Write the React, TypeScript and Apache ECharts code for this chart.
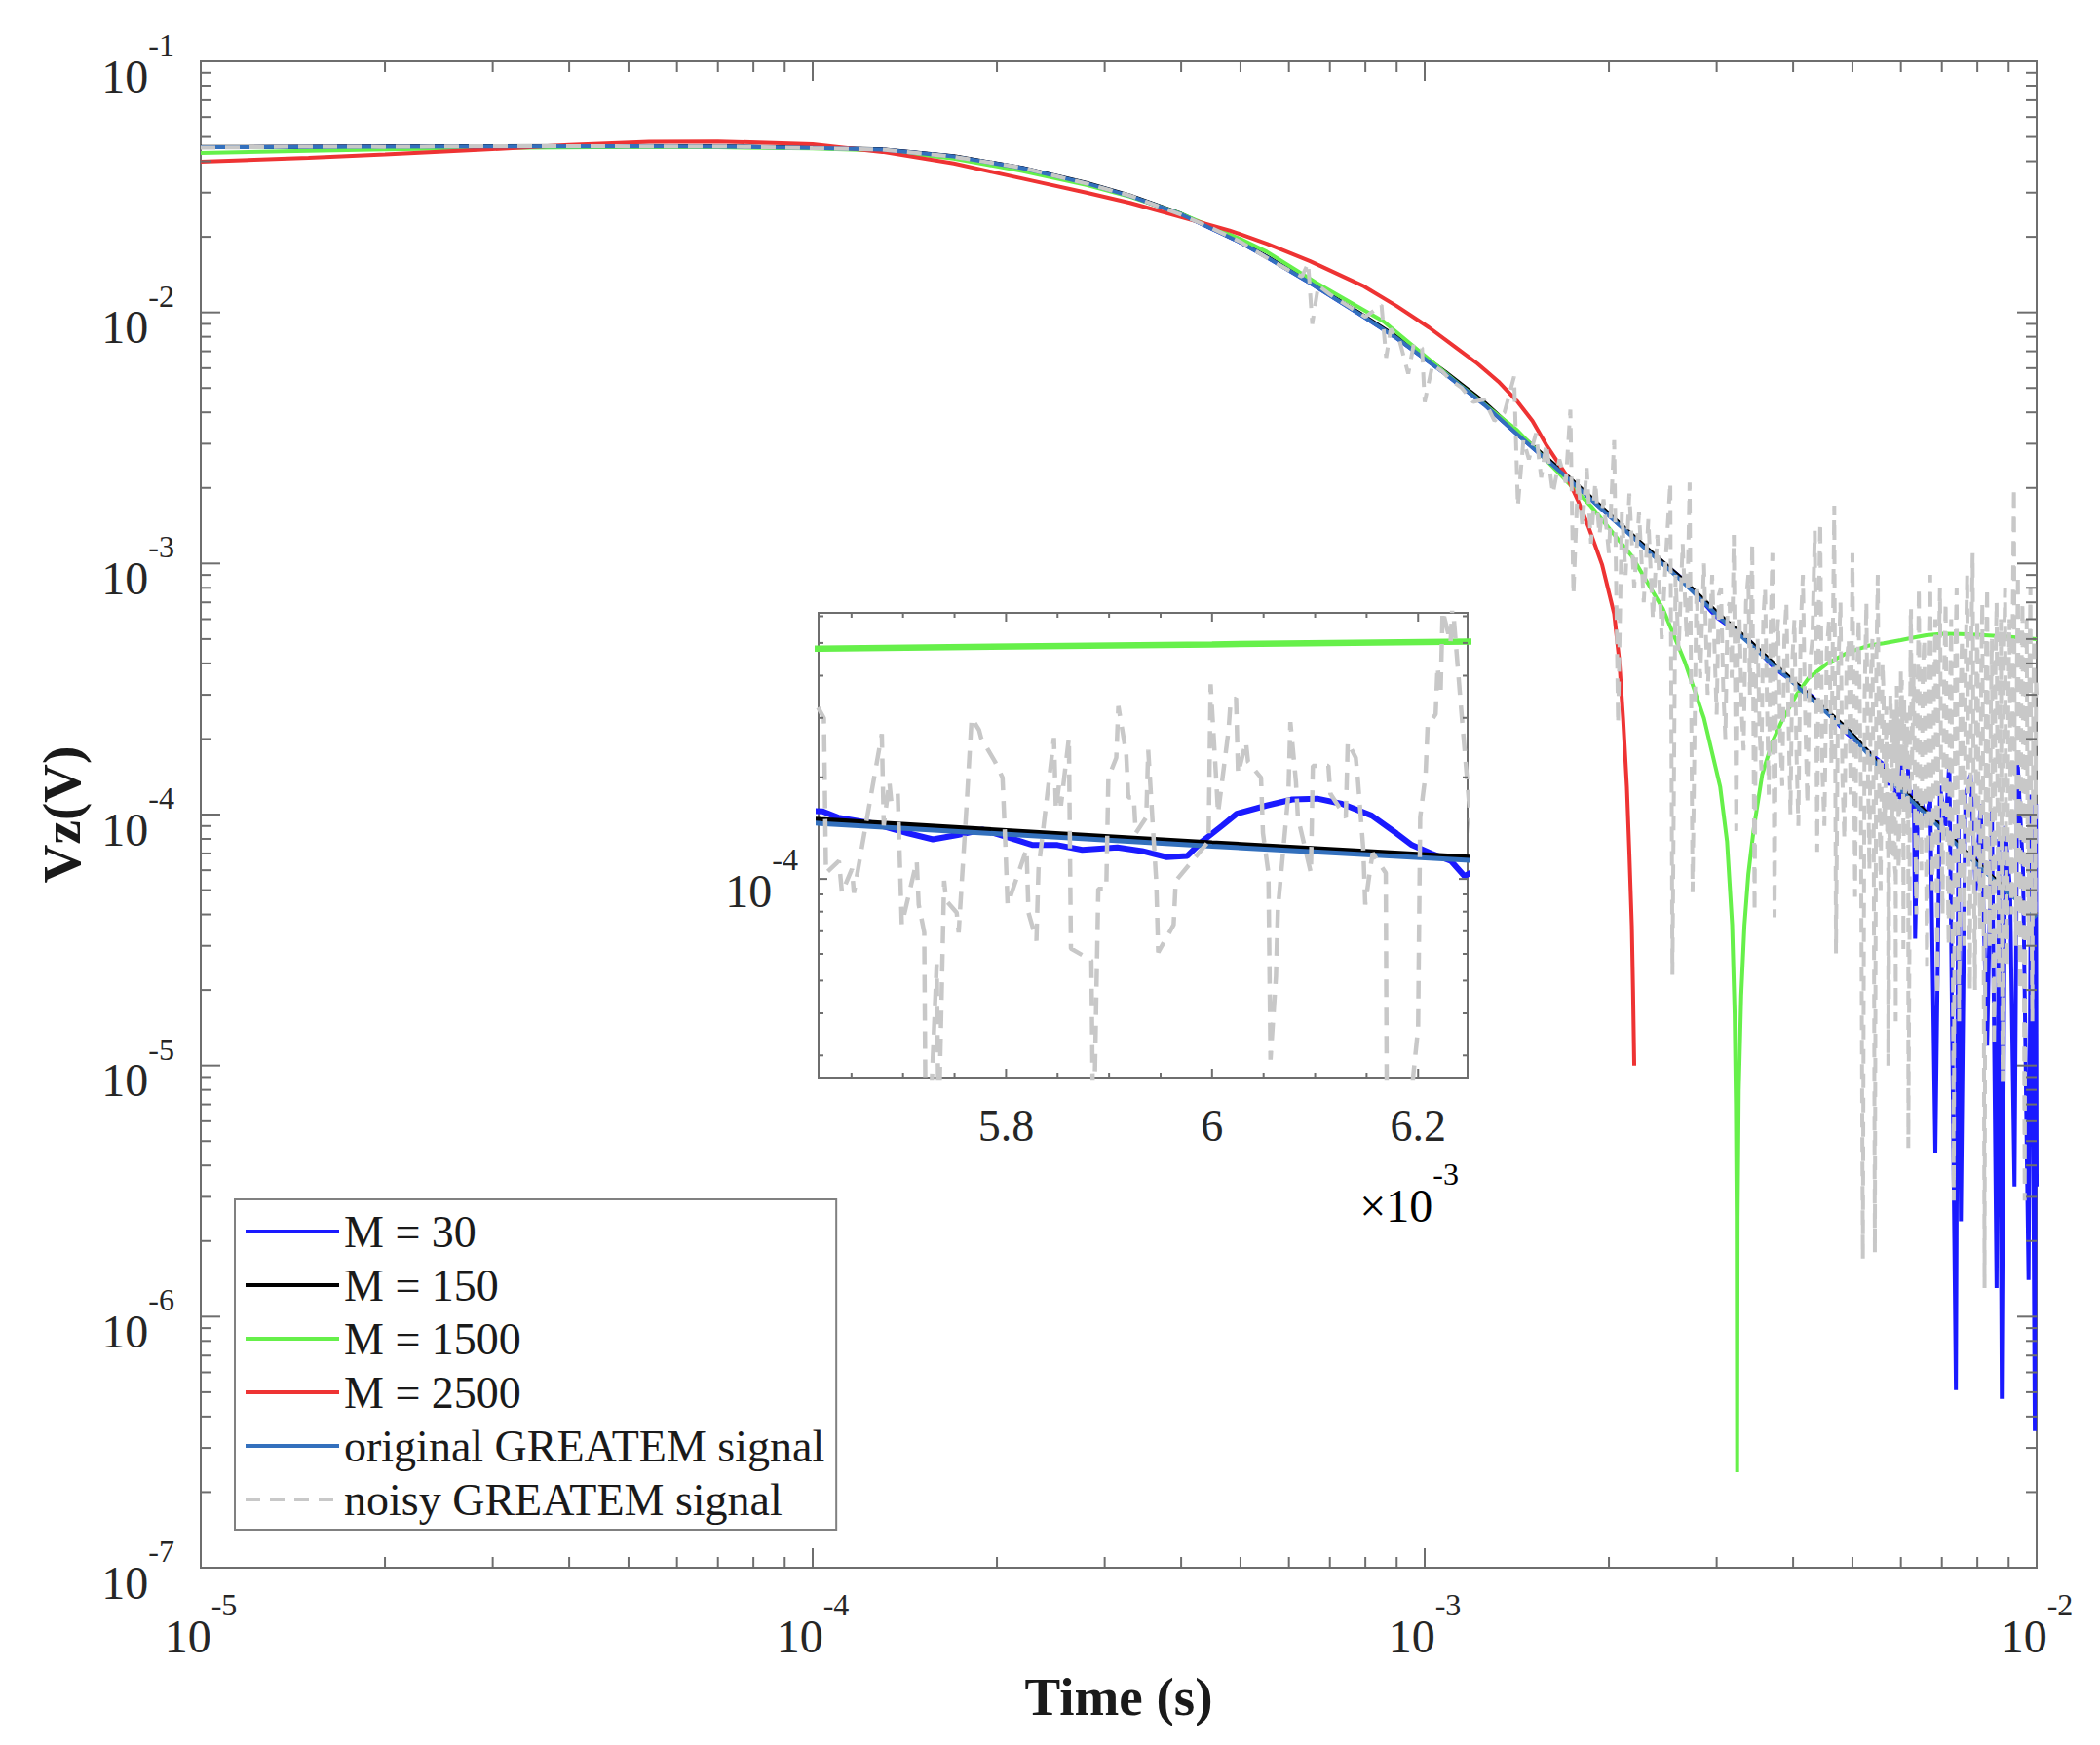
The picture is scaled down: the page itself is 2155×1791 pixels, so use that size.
import { useEffect, useRef } from "react";
import * as echarts from "echarts";

type Pt = [number, number];

const SERIF = "Liberation Serif";
const AXIS_COLOR = "#6e6e6e";
const LABEL_COLOR = "#262626";

const NAMES = [
  "M = 30",
  "M = 150",
  "M = 1500",
  "M = 2500",
  "original GREATEM signal",
  "noisy GREATEM signal",
];
const COLORS = ["#1a1aff", "#000000", "#66f04a", "#ee3333", "#3370bd", "#c8c8c8"];

// main axes
const X_MIN = 1e-5;
const X_MAX = 1e-2;
const Y_MIN = 1e-7;
const Y_MAX = 1e-1;
const X_DECADES = [1e-5, 1e-4, 1e-3, 1e-2];
const Y_DECADES = [1e-7, 1e-6, 1e-5, 1e-4, 1e-3, 1e-2, 1e-1];
const MINOR_STEPS = [2, 3, 4, 5, 6, 7, 8, 9];

// inset axes
const IN_T_MIN = 5.618e-3;
const IN_T_MAX = 6.248e-3;
const IN_V_MIN = 2.58e-5;
const IN_V_MAX = 6.14e-4;
const IN_T_MAJOR = [5.8e-3, 6.0e-3, 6.2e-3];
const IN_T_MINOR = [5.65e-3, 5.7e-3, 5.75e-3, 5.85e-3, 5.9e-3, 5.95e-3, 6.05e-3, 6.1e-3, 6.15e-3];
const IN_V_MAJOR = [1e-4];
const IN_V_MINOR = [3e-5, 4e-5, 5e-5, 6e-5, 7e-5, 8e-5, 9e-5, 2e-4, 3e-4, 4e-4, 5e-4, 6e-4];

// original GREATEM signal
const original: Pt[] = [
  [1e-5, 0.0455], [1.5e-5, 0.0457], [2e-5, 0.0458], [3e-5, 0.0459], [5e-5, 0.046],
  [7e-5, 0.0458], [1e-4, 0.0452], [1.3e-4, 0.0445], [1.7e-4, 0.0418], [2.2e-4, 0.0376],
  [2.8e-4, 0.0327], [3.3e-4, 0.0291], [4e-4, 0.0246], [5e-4, 0.019], [5.52e-4, 0.0166],
  [6.5e-4, 0.0131], [7.96e-4, 0.0096], [9e-4, 0.0079], [1.08e-3, 0.0057], [1.25e-3, 0.0043],
  [1.415e-3, 0.00328], [1.7e-3, 0.00222], [2e-3, 0.00155], [2.3e-3, 0.00114], [2.62e-3, 0.00086],
  [3e-3, 0.000625], [3.4e-3, 0.000478], [3.72e-3, 0.000392], [4.3e-3, 0.000286], [4.9e-3, 0.000215],
  [5.4e-3, 0.000166], [5.62e-3, 0.000146], [6e-3, 0.000125], [6.25e-3, 0.0001135], [7.03e-3, 0.000086],
  [7.7e-3, 0.000069], [8.5e-3, 0.000055], [9.2e-3, 0.0000465], [1e-2, 0.000039],
];

// M = 150
const m150: Pt[] = [
  [1e-5, 0.0456], [1.5e-5, 0.0458], [2e-5, 0.0459], [3e-5, 0.046], [5e-5, 0.0461],
  [7e-5, 0.0459], [1e-4, 0.0453], [1.3e-4, 0.0446], [1.7e-4, 0.0419], [2.2e-4, 0.0377],
  [2.8e-4, 0.0328], [3.3e-4, 0.0292], [4e-4, 0.0247], [5e-4, 0.0191], [5.52e-4, 0.0167],
  [6.5e-4, 0.0132], [7.96e-4, 0.0097], [9e-4, 0.008], [1.08e-3, 0.0058], [1.25e-3, 0.0044],
  [1.415e-3, 0.00334], [1.7e-3, 0.00226], [2e-3, 0.00158], [2.3e-3, 0.00116], [2.62e-3, 0.00088],
  [3e-3, 0.00064], [3.4e-3, 0.00049], [3.72e-3, 0.0004], [4.3e-3, 0.000292], [4.9e-3, 0.00022],
  [5.4e-3, 0.00017], [5.62e-3, 0.00015], [6e-3, 0.000128], [6.25e-3, 0.000116], [7.03e-3, 0.000088],
  [7.7e-3, 0.0000705], [8.5e-3, 0.000056], [9.2e-3, 0.0000475], [1e-2, 0.00004],
];

// M = 30
const m30Early: Pt[] = [
  [1e-5, 0.0455], [1.5e-5, 0.0457], [2e-5, 0.0458], [3e-5, 0.0459], [5e-5, 0.046],
  [7e-5, 0.0458], [1e-4, 0.0452], [1.3e-4, 0.0445], [1.7e-4, 0.0418], [2.2e-4, 0.0376],
  [2.8e-4, 0.0327], [3.3e-4, 0.0291], [4e-4, 0.0246], [5e-4, 0.019], [5.52e-4, 0.0166],
  [6.5e-4, 0.0131], [7.96e-4, 0.0096], [9e-4, 0.0079], [1.08e-3, 0.0057], [1.25e-3, 0.0043],
  [1.415e-3, 0.00328], [1.7e-3, 0.00222], [2e-3, 0.00155], [2.3e-3, 0.00115], [2.62e-3, 0.00088],
  [3e-3, 0.00061], [3.4e-3, 0.00049], [3.72e-3, 0.000385], [4.3e-3, 0.000295], [4.9e-3, 0.00021],
  [5.4e-3, 0.000172],
];
const m30Inset: Pt[] = [
  [5.622e-3, 1.585e-4], [5.637e-3, 1.52e-4], [5.671e-3, 1.46e-4], [5.705e-3, 1.365e-4],
  [5.729e-3, 1.31e-4], [5.753e-3, 1.35e-4], [5.777e-3, 1.4e-4], [5.801e-3, 1.33e-4],
  [5.826e-3, 1.26e-4], [5.85e-3, 1.26e-4], [5.874e-3, 1.22e-4], [5.908e-3, 1.24e-4],
  [5.932e-3, 1.21e-4], [5.956e-3, 1.16e-4], [5.976e-3, 1.17e-4], [5.99e-3, 1.29e-4],
  [6.01e-3, 1.44e-4], [6.024e-3, 1.56e-4], [6.053e-3, 1.65e-4], [6.078e-3, 1.72e-4],
  [6.102e-3, 1.73e-4], [6.126e-3, 1.67e-4], [6.155e-3, 1.54e-4], [6.179e-3, 1.365e-4],
  [6.194e-3, 1.26e-4], [6.213e-3, 1.19e-4], [6.232e-3, 1.13e-4], [6.245e-3, 1.02e-4],
];
const m30Late: Pt[] = [
  [6.3e-3, 0.000125], [6.33e-3, 0.000032], [6.4e-3, 0.00012], [6.5e-3, 0.00011], [6.6e-3, 0.000095],
  [6.7e-3, 0.00012], [6.83e-3, 0.0000045], [6.95e-3, 0.00013], [7.1e-3, 0.00009], [7.2e-3, 0.000164],
  [7.38e-3, 0.00000051], [7.45e-3, 0.0001], [7.52e-3, 0.0000024], [7.65e-3, 0.00012], [7.8e-3, 0.000144],
  [7.95e-3, 0.00005], [8.1e-3, 0.00011], [8.3e-3, 0.000012], [8.45e-3, 0.000105], [8.6e-3, 0.0000013],
  [8.68e-3, 0.00008], [8.77e-3, 0.00000047], [8.88e-3, 0.00009], [9.05e-3, 0.00005], [9.2e-3, 0.0000033],
  [9.3e-3, 0.00017], [9.5e-3, 0.00006], [9.7e-3, 0.0000014], [9.8e-3, 0.00012], [9.93e-3, 0.00000035],
  [9.97e-3, 0.00011], [1e-2, 0.0000033],
];

// M = 1500
const m1500: Pt[] = [
  [1e-5, 0.0432], [1.5e-5, 0.044], [2e-5, 0.0446], [3e-5, 0.0452], [5e-5, 0.0456],
  [7e-5, 0.0455], [1e-4, 0.045], [1.3e-4, 0.0441], [1.7e-4, 0.041], [2.2e-4, 0.0366],
  [2.8e-4, 0.0322], [3.3e-4, 0.0289], [4e-4, 0.0247], [5e-4, 0.0196], [5.52e-4, 0.01745],
  [6.64e-4, 0.01315], [8.57e-4, 0.0092], [1.15e-3, 0.00507], [1.415e-3, 0.0034], [1.6e-3, 0.0025],
  [1.87e-3, 0.00169], [2.18e-3, 0.00107], [2.45e-3, 0.00066], [2.66e-3, 0.000407], [2.86e-3, 0.000242],
  [3.04e-3, 0.000129], [3.12e-3, 0.000078], [3.18e-3, 0.0000363], [3.21e-3, 0.000016], [3.225e-3, 0.000007],
  [3.235e-3, 0.0000025], [3.2405e-3, 0.00000024], [3.246e-3, 0.0000025], [3.26e-3, 0.000008], [3.29e-3, 0.000019],
  [3.33e-3, 0.000036], [3.38e-3, 0.000058], [3.45e-3, 0.000088], [3.56e-3, 0.000144], [3.7e-3, 0.000195],
  [3.83e-3, 0.000234], [4.05e-3, 0.0003], [4.24e-3, 0.00035], [4.55e-3, 0.0004], [4.9e-3, 0.00044],
  [5.3e-3, 0.00047], [5.62e-3, 0.000481], [6e-3, 0.000495], [6.25e-3, 0.000505], [6.6e-3, 0.000518],
  [7.03e-3, 0.000525], [7.5e-3, 0.000524], [8e-3, 0.00052], [8.77e-3, 0.000513], [1e-2, 0.0005],
];

// M = 2500
const m2500: Pt[] = [
  [1e-5, 0.0398], [1.5e-5, 0.0413], [2e-5, 0.0426], [2.84e-5, 0.0444], [4e-5, 0.0465],
  [5.4e-5, 0.0478], [7e-5, 0.048], [1e-4, 0.0468], [1.3e-4, 0.0436], [1.7e-4, 0.0392],
  [2.28e-4, 0.0335], [2.8e-4, 0.03], [3.3e-4, 0.0273], [4e-4, 0.024], [4.8e-4, 0.0212],
  [5.52e-4, 0.0188], [6.5e-4, 0.016], [7.96e-4, 0.0127], [9e-4, 0.0106], [1.017e-3, 0.0087],
  [1.12e-3, 0.0073], [1.22e-3, 0.00625], [1.32e-3, 0.0053], [1.415e-3, 0.00444], [1.5e-3, 0.0037],
  [1.58e-3, 0.00297], [1.7e-3, 0.00227], [1.78e-3, 0.00178], [1.85e-3, 0.00141], [1.95e-3, 0.000986],
  [2.04e-3, 0.00063], [2.08e-3, 0.000407], [2.11e-3, 0.00024], [2.14e-3, 0.000129], [2.16e-3, 0.00007],
  [2.18e-3, 0.000036], [2.19e-3, 0.00002], [2.2e-3, 0.00001],
];

// noisy GREATEM signal
const noisyEarly: Pt[] = [
  [1e-5, 0.0453], [1.5e-5, 0.0458], [2e-5, 0.0457], [3e-5, 0.046], [5e-5, 0.0459],
  [7e-5, 0.0459], [1e-4, 0.0451], [1.3e-4, 0.0446], [1.7e-4, 0.0417], [2.2e-4, 0.0377],
  [2.8e-4, 0.0326], [3.3e-4, 0.0292], [4e-4, 0.0245], [4.5e-4, 0.0216], [5e-4, 0.0191],
  [5.5e-4, 0.0166], [6e-4, 0.0147], [6.3e-4, 0.0139], [6.45e-4, 0.0157], [6.55e-4, 0.009],
  [6.7e-4, 0.0128], [7e-4, 0.0118], [7.5e-4, 0.0106], [8e-4, 0.0096], [8.5e-4, 0.0107],
  [8.65e-4, 0.0066], [8.8e-4, 0.0086], [9.1e-4, 0.0077], [9.4e-4, 0.0057], [9.6e-4, 0.0075],
  [9.9e-4, 0.0072], [1e-3, 0.0044], [1.03e-3, 0.0062], [1.07e-3, 0.0058], [1.1e-3, 0.0054],
  [1.15e-3, 0.005], [1.2e-3, 0.0044], [1.25e-3, 0.0045], [1.3e-3, 0.0037], [1.35e-3, 0.004],
  [1.4e-3, 0.00555], [1.42e-3, 0.00169], [1.45e-3, 0.0031], [1.48e-3, 0.0026], [1.52e-3, 0.0033],
  [1.55e-3, 0.0022], [1.58e-3, 0.003], [1.62e-3, 0.0019], [1.66e-3, 0.0026], [1.7e-3, 0.0021],
  [1.73e-3, 0.0041], [1.75e-3, 0.00075], [1.78e-3, 0.0022], [1.81e-3, 0.0014], [1.84e-3, 0.0024],
  [1.87e-3, 0.0012], [1.9e-3, 0.0021], [1.93e-3, 0.0013], [1.96e-3, 0.0018], [2e-3, 0.0011],
  [2.04e-3, 0.0031], [2.07e-3, 0.00023], [2.1e-3, 0.0016], [2.13e-3, 0.0009], [2.16e-3, 0.0019],
  [2.2e-3, 0.0008], [2.24e-3, 0.0016], [2.28e-3, 0.0007], [2.32e-3, 0.0015], [2.36e-3, 0.0006],
  [2.4e-3, 0.0013], [2.44e-3, 0.0005], [2.48e-3, 0.0011], [2.52e-3, 0.0021], [2.54e-3, 0.000023],
  [2.57e-3, 0.0009], [2.6e-3, 0.00045], [2.64e-3, 0.0012], [2.68e-3, 0.0005], [2.71e-3, 0.0021],
  [2.74e-3, 0.000049], [2.78e-3, 0.0008], [2.82e-3, 0.00035], [2.86e-3, 0.001], [2.9e-3, 0.0003],
  [2.95e-3, 0.0009],
];
const noisyMid: Pt[] = [
  [3e-3, 2.5e-4], [3.025e-3, 7.5e-4], [3.05e-3, 8e-4], [3.075e-3, 3.2e-4], [3.1e-3, 2e-4],
  [3.125e-3, 6.5e-4], [3.15e-3, 7e-4], [3.175e-3, 3.5e-4], [3.2e-3, 1.3e-3], [3.23e-3, 8.6e-5],
  [3.25e-3, 4.5e-4], [3.27e-3, 6e-4], [3.295e-3, 2.6e-4], [3.32e-3, 1.8e-4], [3.35e-3, 7e-4],
  [3.38e-3, 9e-4], [3.4e-3, 3e-4], [3.43e-3, 1.2e-3], [3.46e-3, 4.1e-5], [3.48e-3, 4e-4],
  [3.5e-3, 5e-4], [3.525e-3, 2.2e-4], [3.55e-3, 1.5e-4], [3.575e-3, 6e-4], [3.6e-3, 8e-4],
  [3.625e-3, 2.8e-4], [3.65e-3, 1.2e-4], [3.675e-3, 5.5e-4], [3.7e-3, 1.1e-3], [3.73e-3, 3.9e-5],
  [3.755e-3, 4.5e-4], [3.78e-3, 6e-4], [3.81e-3, 2e-4], [3.84e-3, 1.3e-4], [3.87e-3, 5e-4],
  [3.9e-3, 7e-4], [3.93e-3, 2.4e-4], [3.96e-3, 1e-4], [3.99e-3, 4.2e-4], [4.02e-3, 6e-4],
  [4.05e-3, 1.8e-4], [4.08e-3, 9e-5], [4.115e-3, 5.5e-4], [4.15e-3, 9e-4], [4.185e-3, 2.5e-4],
  [4.22e-3, 1.1e-4], [4.26e-3, 4e-4], [4.3e-3, 5e-4], [4.34e-3, 1.35e-3], [4.38e-3, 7.1e-5],
  [4.405e-3, 6.5e-4], [4.43e-3, 1.45e-3], [4.465e-3, 1.5e-4], [4.5e-3, 9e-5], [4.54e-3, 4.5e-4],
  [4.58e-3, 6e-4], [4.62e-3, 1.6e-4], [4.67e-3, 1.7e-3], [4.7e-3, 2.8e-5], [4.74e-3, 3.8e-4],
  [4.78e-3, 7e-4], [4.815e-3, 1.4e-4], [4.85e-3, 8e-5], [4.89e-3, 4e-4], [4.93e-3, 5e-4],
  [4.965e-3, 1.2e-4], [5e-3, 1.1e-3], [5.05e-3, 4.7e-5], [5.085e-3, 3.5e-4], [5.12e-3, 6e-4],
  [5.16e-3, 1.3e-4], [5.2e-3, 1.7e-6], [5.235e-3, 3e-4], [5.27e-3, 7e-4], [5.3e-3, 1.5e-4],
  [5.33e-3, 6e-5], [5.36e-3, 3.6e-4], [5.39e-3, 5e-4], [5.415e-3, 1.1e-4], [5.44e-3, 1.8e-6],
  [5.47e-3, 4e-4], [5.5e-3, 9e-4], [5.53e-3, 1.3e-4], [5.56e-3, 5e-5], [5.6e-3, 4e-4],
];
const noisyInset: Pt[] = [
  [5.6232e-3, 2.996e-4], [5.6252e-3, 1.041e-4], [5.6378e-3, 1.13e-4], [5.6407e-3, 9.1e-5],
  [5.6504e-3, 1.07e-4], [5.6523e-3, 9.1e-5], [5.6794e-3, 2.688e-4], [5.6813e-3, 1.441e-4],
  [5.6867e-3, 1.942e-4], [5.6886e-3, 1.696e-4], [5.6949e-3, 1.79e-4], [5.6988e-3, 7.32e-5],
  [5.7133e-3, 1.13e-4], [5.7152e-3, 8.39e-5], [5.7206e-3, 6.94e-5], [5.7225e-3, 1.0e-5],
  [5.7327e-3, 5.59e-5], [5.7346e-3, 1.8e-5], [5.7399e-3, 9.87e-5], [5.7419e-3, 8.62e-5],
  [5.7521e-3, 7.94e-5], [5.754e-3, 6.94e-5], [5.7617e-3, 1.651e-4], [5.7666e-3, 2.996e-4],
  [5.7738e-3, 2.762e-4], [5.7758e-3, 2.616e-4], [5.7893e-3, 2.224e-4], [5.7966e-3, 1.995e-4],
  [5.7995e-3, 1.225e-4], [5.8015e-3, 8.39e-5], [5.8199e-3, 1.225e-4], [5.8218e-3, 7.94e-5],
  [5.8295e-3, 6.57e-5], [5.8315e-3, 1.07e-4], [5.8465e-3, 2.616e-4], [5.8484e-3, 1.607e-4],
  [5.8513e-3, 1.89e-4], [5.8533e-3, 1.651e-4], [5.861e-3, 2.616e-4], [5.863e-3, 6.22e-5],
  [5.8828e-3, 5.74e-5], [5.8848e-3, 1.5e-5], [5.8877e-3, 4.62e-5], [5.8896e-3, 9.35e-5],
  [5.8973e-3, 9.35e-5], [5.8993e-3, 1.995e-4], [5.907e-3, 2.285e-4], [5.909e-3, 3.25e-4],
  [5.9167e-3, 2.347e-4], [5.9187e-3, 1.743e-4], [5.924e-3, 1.743e-4], [5.9259e-3, 1.366e-4],
  [5.9361e-3, 1.522e-4], [5.938e-3, 2.412e-4], [5.9434e-3, 1.293e-4], [5.9453e-3, 1.041e-4],
  [5.9458e-3, 9.87e-5], [5.9477e-3, 6.06e-5], [5.9627e-3, 7.32e-5], [5.9647e-3, 9.87e-5],
  [5.9966e-3, 1.293e-4], [5.9986e-3, 3.771e-4], [6.0039e-3, 1.995e-4], [6.0058e-3, 1.564e-4],
  [6.016e-3, 2.762e-4], [6.0179e-3, 3.338e-4], [6.0233e-3, 3.43e-4], [6.0252e-3, 2.05e-4],
  [6.0329e-3, 2.546e-4], [6.0349e-3, 2.224e-4], [6.0475e-3, 1.995e-4], [6.0494e-3, 1.366e-4],
  [6.0547e-3, 1.041e-4], [6.0567e-3, 2.915e-5], [6.062e-3, 5.15e-5], [6.0639e-3, 8.16e-5],
  [6.0741e-3, 1.79e-4], [6.076e-3, 2.915e-4], [6.0814e-3, 1.942e-4], [6.0833e-3, 1.522e-4],
  [6.0959e-3, 1.041e-4], [6.0978e-3, 2.164e-4], [6.1129e-3, 2.164e-4], [6.1148e-3, 1.79e-4],
  [6.1298e-3, 1.522e-4], [6.1317e-3, 2.546e-4], [6.1395e-3, 2.285e-4], [6.1414e-3, 1.995e-4],
  [6.1468e-3, 1.225e-4], [6.1487e-3, 8.39e-5], [6.154e-3, 1.099e-4], [6.156e-3, 1.193e-4],
  [6.1686e-3, 1.041e-4], [6.1705e-3, 4.7e-6], [6.2e-3, 3.62e-5], [6.202e-3, 1.522e-4],
  [6.2073e-3, 2.05e-4], [6.2092e-3, 2.838e-4], [6.217e-3, 3.077e-4], [6.2189e-3, 4.26e-4],
  [6.2218e-3, 3.524e-4], [6.2238e-3, 6.22e-4], [6.2315e-3, 5.01e-4], [6.2334e-3, 6.57e-4],
  [6.2422e-3, 3.077e-4], [6.2519e-3, 1.366e-4],
];
const noisyLate: Pt[] = [
  [6.3e-3, 4e-4], [6.33e-3, 9e-5], [6.36e-3, 4e-5], [6.39e-3, 3e-4], [6.42e-3, 8e-4],
  [6.45e-3, 1.5e-4], [6.48e-3, 6e-5], [6.515e-3, 3.5e-4], [6.55e-3, 5e-4], [6.585e-3, 1e-4],
  [6.62e-3, 2.5e-5], [6.66e-3, 4.5e-4], [6.7e-3, 9e-4], [6.73e-3, 1.2e-4], [6.76e-3, 5e-5],
  [6.795e-3, 3e-4], [6.83e-3, 6e-4], [6.855e-3, 9e-5], [6.88e-3, 1.9e-5], [6.915e-3, 4e-4],
  [6.95e-3, 8e-4], [6.985e-3, 1.1e-4], [7.02e-3, 4e-5], [7.06e-3, 3.5e-4], [7.1e-3, 7e-4],
  [7.14e-3, 9e-5], [7.18e-3, 3e-5], [7.215e-3, 3e-4], [7.25e-3, 6e-4], [7.285e-3, 8e-5],
  [7.32e-3, 2.9e-6], [7.36e-3, 4e-4], [7.4e-3, 8e-4], [7.435e-3, 7e-5], [7.47e-3, 1.5e-5],
  [7.51e-3, 3e-4], [7.55e-3, 5e-4], [7.585e-3, 9e-5], [7.62e-3, 3e-5], [7.66e-3, 4.5e-4],
  [7.7e-3, 9e-4], [7.74e-3, 8e-5], [7.78e-3, 2e-5], [7.82e-3, 5e-4], [7.86e-3, 1.1e-3],
  [7.895e-3, 6e-5], [7.93e-3, 2e-5], [7.965e-3, 3e-4], [8e-3, 6e-4], [8.04e-3, 1e-4],
  [8.08e-3, 3.5e-5], [8.115e-3, 3.5e-4], [8.15e-3, 7e-4], [8.185e-3, 7e-5], [8.22e-3, 1.3e-6],
  [8.26e-3, 4e-4], [8.3e-3, 8e-4], [8.34e-3, 9e-5], [8.38e-3, 3e-5], [8.415e-3, 2.5e-4],
  [8.45e-3, 5e-4], [8.485e-3, 6e-5], [8.52e-3, 1.2e-5], [8.56e-3, 3.5e-4], [8.6e-3, 7e-4],
  [8.635e-3, 8e-5], [8.67e-3, 2e-5], [8.705e-3, 3e-4], [8.74e-3, 6e-4], [8.77e-3, 5e-5],
  [8.8e-3, 8.6e-6], [8.84e-3, 4e-4], [8.88e-3, 8e-4], [8.915e-3, 7e-5], [8.95e-3, 2.5e-5],
  [8.99e-3, 3e-4], [9.03e-3, 6e-4], [9.065e-3, 1e-4], [9.1e-3, 4e-5], [9.14e-3, 6e-4],
  [9.18e-3, 2e-3], [9.215e-3, 1e-4], [9.25e-3, 3e-5], [9.285e-3, 4e-4], [9.32e-3, 9e-4],
  [9.36e-3, 8e-5], [9.4e-3, 2e-5], [9.44e-3, 3.5e-4], [9.48e-3, 7e-4], [9.52e-3, 6e-5],
  [9.56e-3, 2.9e-6], [9.595e-3, 3e-4], [9.63e-3, 6e-4], [9.665e-3, 9e-5], [9.7e-3, 3e-5],
  [9.735e-3, 4e-4], [9.77e-3, 8e-4], [9.805e-3, 5e-5], [9.84e-3, 1.5e-5], [9.87e-3, 2.5e-4],
  [9.9e-3, 5e-4], [9.925e-3, 9e-5], [9.95e-3, 4e-5], [9.975e-3, 3.5e-4], [1e-2, 3e-4],
];

const m30 = [...m30Early, ...m30Inset, ...m30Late];
const noisy = [...noisyEarly, ...noisyMid, ...noisyInset, ...noisyLate];
const SERIES_DATA = [m30, m150, m1500, m2500, original, noisy];

const powRich = {
  b: { fontFamily: SERIF, fontSize: 48, lineHeight: 72, verticalAlign: "bottom", color: LABEL_COLOR },
  s: { fontFamily: SERIF, fontSize: 32, lineHeight: 32, verticalAlign: "top", color: LABEL_COLOR },
};

function powLabel(v: number): string {
  const e = Math.log10(v);
  const r = Math.round(e);
  if (Math.abs(e - r) > 1e-6) return "";
  return `{b|10}{s|${r}}`;
}

// tick marks drawn on all four sides, [x, y, kind(0 = x tick, 1 = y tick), length]
function buildTicks(
  xMajor: number[], xMinor: number[], yMajor: number[], yMinor: number[],
  xRef: number, yRef: number, majorLen: number, minorLen: number,
): number[][] {
  const out: number[][] = [];
  xMajor.forEach((v) => out.push([v, yRef, 0, majorLen]));
  xMinor.forEach((v) => out.push([v, yRef, 0, minorLen]));
  yMajor.forEach((v) => out.push([xRef, v, 1, majorLen]));
  yMinor.forEach((v) => out.push([xRef, v, 1, minorLen]));
  return out;
}

function tickSeries(axisIndex: number, xr: [number, number], yr: [number, number], data: number[][]) {
  return {
    type: "custom",
    xAxisIndex: axisIndex,
    yAxisIndex: axisIndex,
    silent: true,
    clip: false,
    z: 4,
    encode: { x: 0, y: 1 },
    data,
    renderItem: (_params: any, api: any) => {
      const kind = api.value(2);
      const len = api.value(3);
      const style = { stroke: AXIS_COLOR, lineWidth: 2 };
      if (kind === 0) {
        const v = api.value(0);
        const b = api.coord([v, yr[0]]);
        const t = api.coord([v, yr[1]]);
        return {
          type: "group",
          children: [
            { type: "line", shape: { x1: b[0], y1: b[1], x2: b[0], y2: b[1] - len }, style },
            { type: "line", shape: { x1: t[0], y1: t[1], x2: t[0], y2: t[1] + len }, style },
          ],
        };
      }
      const v = api.value(1);
      const l = api.coord([xr[0], v]);
      const r = api.coord([xr[1], v]);
      return {
        type: "group",
        children: [
          { type: "line", shape: { x1: l[0], y1: l[1], x2: l[0] + len, y2: l[1] }, style },
          { type: "line", shape: { x1: r[0], y1: r[1], x2: r[0] - len, y2: r[1] }, style },
        ],
      };
    },
  };
}

const xMinorMain: number[] = [];
X_DECADES.slice(0, -1).forEach((d) => MINOR_STEPS.forEach((m) => xMinorMain.push(d * m)));
const yMinorMain: number[] = [];
Y_DECADES.slice(0, -1).forEach((d) => MINOR_STEPS.forEach((m) => yMinorMain.push(d * m)));

const MAIN_WIDTHS = [4, 4, 4, 4, 4, 4];
const INSET_WIDTHS = [6, 5, 6.5, 6, 5, 4.5];

export default function App() {
  const ref = useRef<HTMLDivElement>(null);

  useEffect(() => {
    if (!ref.current) return;
    const chart = echarts.init(ref.current, undefined, { renderer: "svg" });

    const mainSeries = NAMES.map((name, i) => ({
      name,
      type: "line",
      xAxisIndex: 0,
      yAxisIndex: 0,
      data: SERIES_DATA[i],
      symbol: "none",
      showSymbol: false,
      emphasis: { disabled: true },
      itemStyle: { color: COLORS[i] },
      lineStyle: {
        color: COLORS[i],
        width: MAIN_WIDTHS[i],
        type: i === 5 ? [15, 10] : "solid",
      },
    }));

    const insetSeries = NAMES.map((name, i) => ({
      name,
      type: "line",
      xAxisIndex: 1,
      yAxisIndex: 1,
      data: SERIES_DATA[i],
      symbol: "none",
      showSymbol: false,
      clip: true,
      emphasis: { disabled: true },
      itemStyle: { color: COLORS[i] },
      lineStyle: {
        color: COLORS[i],
        width: INSET_WIDTHS[i],
        type: i === 5 ? [18, 11] : "solid",
      },
    }));

    chart.setOption({
      animation: false,
      backgroundColor: "#ffffff",
      textStyle: { fontFamily: SERIF },
      grid: [
        {
          left: 206, top: 63, width: 1884, height: 1546,
          show: true, borderColor: AXIS_COLOR, borderWidth: 2, backgroundColor: "transparent",
        },
        {
          left: 840, top: 629, width: 666, height: 477,
          show: true, borderColor: AXIS_COLOR, borderWidth: 2, backgroundColor: "#ffffff",
        },
      ],
      xAxis: [
        {
          gridIndex: 0,
          type: "log",
          logBase: 10,
          min: X_MIN,
          max: X_MAX,
          axisLine: { show: false },
          axisTick: { show: false },
          splitLine: { show: false },
          axisLabel: { formatter: powLabel, margin: 22, rich: powRich },
          name: "Time (s)",
          nameLocation: "middle",
          nameGap: 105,
          nameTextStyle: { fontFamily: SERIF, fontSize: 55, fontWeight: "bold", color: "#1a1a1a", lineHeight: 55 },
        },
        {
          gridIndex: 1,
          type: "value",
          min: IN_T_MIN,
          max: IN_T_MAX,
          axisLine: { show: false },
          axisTick: { show: false },
          splitLine: { show: false },
          axisLabel: {
            customValues: IN_T_MAJOR,
            formatter: (v: number) => String(Math.round(v * 1e4) / 10),
            fontFamily: SERIF,
            fontSize: 46,
            lineHeight: 46,
            color: LABEL_COLOR,
            margin: 26,
          },
        },
      ],
      yAxis: [
        {
          gridIndex: 0,
          type: "log",
          logBase: 10,
          min: Y_MIN,
          max: Y_MAX,
          axisLine: { show: false },
          axisTick: { show: false },
          splitLine: { show: false },
          axisLabel: { formatter: powLabel, margin: 27, rich: powRich, padding: [6, 0, 0, 0] },
          name: "Vz(V)",
          nameLocation: "middle",
          nameGap: 115,
          nameRotate: 90,
          nameTextStyle: { fontFamily: SERIF, fontSize: 55, fontWeight: "bold", color: "#1a1a1a", lineHeight: 55 },
        },
        {
          gridIndex: 1,
          type: "log",
          logBase: 10,
          min: IN_V_MIN,
          max: IN_V_MAX,
          axisLine: { show: false },
          axisTick: { show: false },
          splitLine: { show: false },
          axisLabel: {
            formatter: powLabel,
            margin: 21,
            rich: powRich,
            showMinLabel: false,
            showMaxLabel: false,
          },
        },
      ],
      legend: {
        data: NAMES,
        orient: "vertical",
        left: 241,
        top: 1231,
        padding: [10, 12, 8, 9],
        itemWidth: 96,
        itemHeight: 20,
        itemGap: 9,
        selectedMode: false,
        backgroundColor: "#ffffff",
        borderColor: "#808080",
        borderWidth: 2,
        itemStyle: { opacity: 0 },
        lineStyle: { width: 4 },
        textStyle: { fontFamily: SERIF, fontSize: 46, lineHeight: 46, color: "#1a1a1a" },
      },
      graphic: [
        {
          type: "text",
          x: 1497,
          y: 1261,
          style: {
            text: "{b|×10}{s|-3}",
            align: "right",
            verticalAlign: "bottom",
            rich: powRich,
          },
        },
      ],
      series: [
        ...mainSeries,
        tickSeries(0, [X_MIN, X_MAX], [Y_MIN, Y_MAX],
          buildTicks(X_DECADES, xMinorMain, Y_DECADES, yMinorMain, X_MIN, Y_MIN, 20, 11)),
        ...insetSeries,
        tickSeries(1, [IN_T_MIN, IN_T_MAX], [IN_V_MIN, IN_V_MAX],
          buildTicks(IN_T_MAJOR, IN_T_MINOR, IN_V_MAJOR, IN_V_MINOR, 6e-3, 1e-4, 9, 5)),
      ],
    });

    return () => chart.dispose();
  }, []);

  return (
    <div
      ref={ref}
      style={{ position: "absolute", left: 0, top: 0, width: 2155, height: 1791, background: "#fff" }}
    />
  );
}
